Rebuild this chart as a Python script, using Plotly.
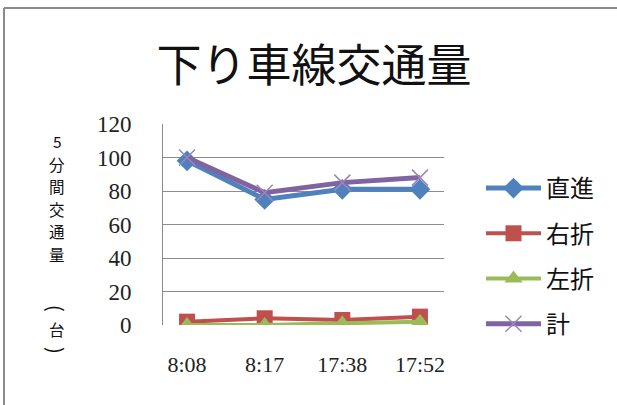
import plotly.graph_objects as go

# Observation times (x categories)
times = ["8:08", "8:17", "17:38", "17:52"]

# 5-minute traffic counts per movement
straight = [98, 75, 81, 81]
right_turn = [2, 4, 3, 5]
left_turn = [0, 0, 1, 2]
total = [100, 79, 85, 88]

y_ticks = [0, 20, 40, 60, 80, 100, 120]

# Vertical axis title: stacked characters, then the bracketed unit
ytitle_main = ["5", "分", "間", "交", "通", "量"]
ytitle_unit = ["(", "台", ")"]

CJK = "Noto Sans CJK JP"
SERIF = "Liberation Serif, DejaVu Serif, serif"

W, H = 617, 405
L, R, T, B = 163, 173, 124, 80
PW, PH = W - L - R, H - T - B


def px_x(px):
    return (px - L) / PW


def px_y(py):
    return (H - B - py) / PH


fig = go.Figure()

series = [
    ("直進", straight, "#4F81BD", dict(symbol="diamond", size=16), 5),
    ("右折", right_turn, "#C0504D", dict(symbol="square", size=16), 4),
    ("左折", left_turn, "#9BBB59", dict(symbol="triangle-up", size=16), 4),
    ("計", total, "#8064A2", dict(symbol="x-thin", size=16,
                                 line=dict(width=1.5, color="#9A86BC")), 5),
]

for name, vals, color, marker, lw in series:
    fig.add_trace(go.Scatter(
        x=times, y=vals, name=name, mode="lines+markers",
        line=dict(color=color, width=lw),
        marker=dict(color=color, **marker),
        legendgroup=name,
    ))

fig.update_layout(
    width=W, height=H,
    margin=dict(l=L, r=R, t=T, b=B),
    paper_bgcolor="white", plot_bgcolor="white",
    title=dict(text="下り車線交通量", x=px_x(314), xref="paper", xanchor="center",
               y=1 - 66 / H, yanchor="middle",
               font=dict(family=CJK, size=45, color="#111111")),
    xaxis=dict(
        type="category", categoryorder="array", categoryarray=times,
        showgrid=False, showline=False, ticks="", zeroline=False,
        tickfont=dict(family=SERIF, size=22, color="#222222"),
        ticklabelstandoff=24,
    ),
    yaxis=dict(
        range=[0, 120], tickvals=y_ticks, showgrid=True, gridcolor="#8C8C8C",
        gridwidth=1, zeroline=False, showline=True, linecolor="#8C8C8C",
        linewidth=1, ticks="",
        tickfont=dict(family=SERIF, size=23, color="#222222"),
        ticklabelstandoff=26,
    ),
    legend=dict(
        x=px_x(481), y=px_y(166), xanchor="left", yanchor="top",
        font=dict(family=CJK, size=24, color="#111111"),
        traceorder="grouped", tracegroupgap=11, itemwidth=55,
        bgcolor="rgba(0,0,0,0)",
    ),
    showlegend=True,
)

# Vertical axis title: one character per annotation, stacked downwards
pitch = 22.6
for i, ch in enumerate(ytitle_main):
    fig.add_annotation(
        text=ch, xref="paper", yref="paper", x=px_x(57), y=px_y(141 + i * pitch),
        xanchor="center", yanchor="middle", showarrow=False,
        font=dict(family=CJK, size=15.5, color="#111111"),
    )
# Unit in brackets; the brackets are turned to suit vertical text
for ch, cy in zip(ytitle_unit, [308, 329, 350]):
    is_bracket = ch in "()"
    fig.add_annotation(
        text=ch, xref="paper", yref="paper", x=px_x(57), y=px_y(cy),
        xanchor="center", yanchor="middle", showarrow=False,
        textangle=90 if is_bracket else 0,
        font=dict(family=CJK, size=20 if is_bracket else 15.5, color="#111111"),
    )

# Chart frame edges (top and left)
fig.add_shape(type="line", xref="paper", yref="paper",
              x0=px_x(4), x1=px_x(617), y0=px_y(8), y1=px_y(8),
              line=dict(color="#8A8A8A", width=2))
fig.add_shape(type="line", xref="paper", yref="paper",
              x0=px_x(4), x1=px_x(4), y0=px_y(8), y1=px_y(405),
              line=dict(color="#8A8A8A", width=2))

fig.write_html("out.html")
